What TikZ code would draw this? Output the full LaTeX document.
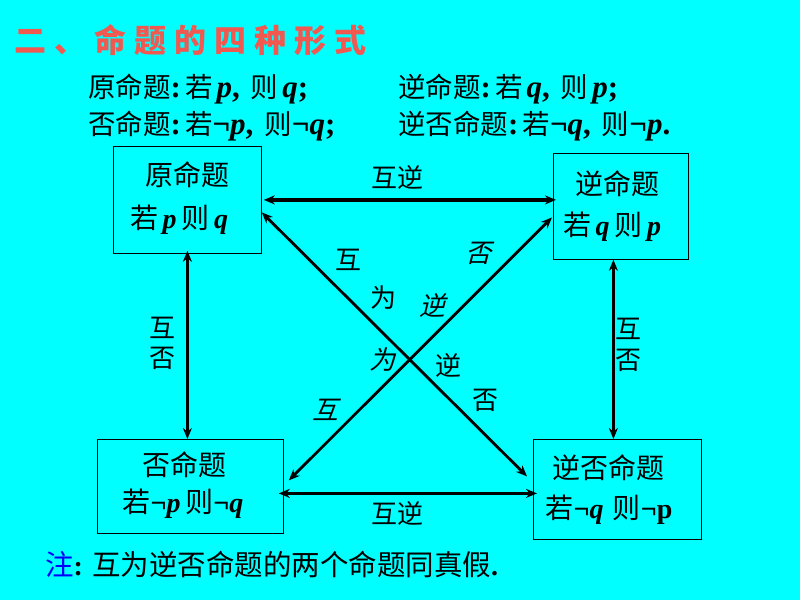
\documentclass[tikz,border=0pt]{standalone}
\usepackage{fontspec}
\setmainfont{Liberation Serif}
\newfontfamily\cjk{Noto Sans CJK SC}
\newfontfamily\cjkit[FakeSlant=0.25]{Noto Sans CJK SC}
\IfFontExistsTF{Noto Sans CJK SC Black}{%
  \newfontfamily\cjkbold[LetterSpace=25]{Noto Sans CJK SC Black}}{%
  \IfFontExistsTF{Noto Sans CJK SC Bold}{%
    \newfontfamily\cjkbold[LetterSpace=25,FakeBold=1.5]{Noto Sans CJK SC Bold}}{%
    \newfontfamily\cjkbold[FakeBold=4,LetterSpace=25]{Noto Sans CJK SC}}}
\usetikzlibrary{arrows.meta,calc}
\definecolor{bgcyan}{RGB}{0,255,255}
\definecolor{titlered}{RGB}{240,88,80}
\definecolor{noteblue}{RGB}{0,0,255}
\newcommand{\myp}{\textbf{\textit{p}}}
\newcommand{\myq}{\textbf{\textit{q}}}
\newcommand{\myneg}{\textbf{¬}}
\newcommand{\mycolon}{\textbf{:}}
\tikzset{
  boxst/.style={draw=black, line width=0.8pt, inner sep=0pt, anchor=north west},
  txt/.style={inner sep=0pt, anchor=base, font=\fontsize{28}{30}\selectfont},
  linetxt/.style={inner sep=0pt, anchor=base west, font=\fontsize{31}{32}\selectfont},
  lab/.style={inner sep=0pt, font=\cjk\fontsize{26}{26}\selectfont},
  labit/.style={inner sep=0pt, font=\cjkit\fontsize{26}{26}\selectfont},
  conn/.style={line width=3.2pt, {Stealth[length=11pt,width=9pt]}-{Stealth[length=11pt,width=9pt]}},
  diag/.style={line width=2.8pt, {Stealth[length=11pt,width=9pt]}-{Stealth[length=11pt,width=9pt]}}
}
\newcommand{\cj}[1]{{\cjk\fontsize{27.5}{30}\selectfont #1}}
\begin{document}
\begin{tikzpicture}[x=1pt,y=-1pt]
\fill[bgcyan] (0,0) rectangle (800,600);
\useasboundingbox (0,0) rectangle (800,600);

% title
\node[inner sep=0pt, anchor=west, text=titlered, font=\cjkbold\fontsize{32}{32}\selectfont] (title) at (14,40) {二、命题的四种形式};

% statement lines
\node[linetxt] (l1a) at (88,97) {\cj{原命题}\mycolon\hspace{4pt}\cj{若}\hspace{4pt}\myp\textbf{,}\hspace{11pt}\cj{则}\hspace{4pt}\myq\textbf{;}};
\node[linetxt] (l1b) at (398,97) {\cj{逆命题}\mycolon\hspace{4pt}\cj{若}\hspace{4pt}\myq\textbf{,}\hspace{11pt}\cj{则}\hspace{4pt}\myp\textbf{;}};
\node[linetxt] (l2a) at (88,134) {\cj{否命题}\mycolon\hspace{4pt}\cj{若}\myneg\myp\textbf{,}\hspace{11pt}\cj{则}\myneg\myq\textbf{;}};
\node[linetxt] (l2b) at (398,134) {\cj{逆否命题}\mycolon\hspace{4pt}\cj{若}\myneg\myq\textbf{,}\hspace{11pt}\cj{则}\myneg\myp\textbf{.}};

% boxes
\node[boxst, minimum width=148pt, minimum height=107pt] (b1) at (113,146) {};
\node[boxst, minimum width=135pt, minimum height=106pt] (b2) at (553,153) {};
\node[boxst, minimum width=186pt, minimum height=94pt] (b3) at (97,439) {};
\node[boxst, minimum width=168pt, minimum height=100pt] (b4) at (533,439) {};

% box texts
\node[txt] (t1a) at (187,185) {\cjk 原命题};
\node[txt] (t1b) at (179,228) {{\cjk 若}\,\myp\,{\cjk 则}\,\myq};
\node[txt] (t2a) at (617,194) {\cjk 逆命题};
\node[txt] (t2b) at (612,235) {{\cjk 若}\,\myq\,{\cjk 则}\,\myp};
\node[txt] (t3a) at (184,475) {\cjk 否命题};
\node[txt] (t3b) at (183,512) {{\cjk 若}\myneg\myp\,{\cjk 则}\myneg\myq};
\node[txt] (t4a) at (608,478) {\cjk 逆否命题};
\node[txt] (t4b) at (609,518) {{\cjk 若}\myneg\myq\,\,{\cjk 则}\myneg\textbf{p}};

% connectors
\draw[conn] ([xshift=2pt]b1.east) -- ([xshift=3pt]b2.west |- b1.east);
\coordinate (bl) at ([xshift=-5pt,yshift=-7pt]b3.east);
\draw[conn] (bl) -- ([xshift=4pt]b4.west |- bl);
\draw[conn] ([yshift=3pt]b1.south) -- (b1.south |- b3.north);
\coordinate (rv) at ([xshift=-7.5pt]b2.south);
\draw[conn] (rv) -- (rv |- b4.north);
\draw[diag] ([yshift=-12.5pt]b1.east) -- ([xshift=-6pt,yshift=13pt]b4.west);
\draw[diag] ([xshift=-1pt,yshift=-11pt]b2.west) -- ([xshift=5pt,yshift=6pt]b3.east);

% connector labels
\node[lab] (ltop) at (397,177) {互逆};
\node[lab] (lbot) at (397,513) {互逆};
\node[lab] (ll1) at (162,328) {互};
\node[lab] (ll2) at (162,358) {否};
\node[lab] (lr1) at (628,329) {互};
\node[lab] (lr2) at (628,360) {否};
\node[lab] (d1) at (348,260) {互};
\node[lab] (d2) at (383,298) {为};
\node[labit] (d3) at (478,253) {否};
\node[labit] (d4) at (432,305) {逆};
\node[labit] (d5) at (382,360) {为};
\node[lab] (d6) at (448,365) {逆};
\node[lab] (d7) at (485,400) {否};
\node[labit] (d8) at (325,410) {互};

% note
\node[inner sep=0pt, anchor=base west, font=\fontsize{28}{30}\selectfont] (note) at (45,575) {{\cjk\fontsize{28.5}{30}\selectfont\color{noteblue}注}\mycolon\hspace{9pt}{\cjk\fontsize{28.5}{30}\selectfont 互为逆否命题的两个命题同真假}\textbf{.}};
\end{tikzpicture}
\end{document}
